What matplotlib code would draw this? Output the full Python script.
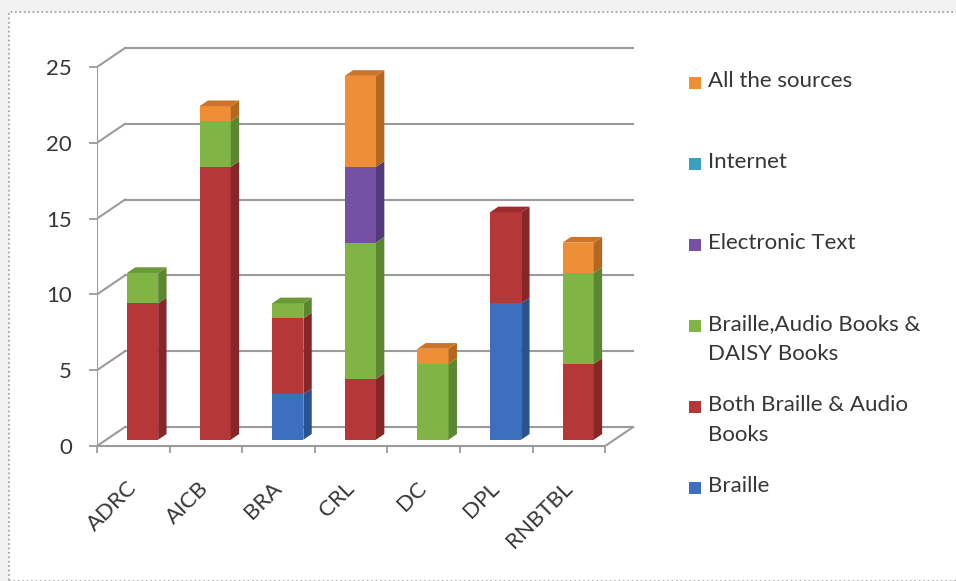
import matplotlib.pyplot as plt
from matplotlib.patches import Polygon, Rectangle

plt.rcParams['font.family'] = ['Lato', 'DejaVu Sans']

# --- datos ---
libraries = ['ADRC', 'AICB', 'BRA', 'CRL', 'DC', 'DPL', 'RNBTBL']
series_names = ['Braille', 'Both Braille & Audio\nBooks', 'Braille,Audio Books &\nDAISY Books',
                'Electronic Text', 'Internet', 'All the sources']
braille = [0, 0, 3, 0, 0, 9, 0]
both_braille_audio = [9, 18, 5, 4, 0, 6, 5]
braille_audio_daisy = [2, 3, 1, 9, 5, 0, 6]
electronic_text = [0, 0, 0, 5, 0, 0, 0]
internet = [0, 0, 0, 0, 0, 0, 0]
all_sources = [0, 1, 0, 6, 1, 0, 2]
series_values = [braille, both_braille_audio, braille_audio_daisy,
                 electronic_text, internet, all_sources]
y_ticks = [0, 5, 10, 15, 20, 25]

front_colors = ['#3c6fbd', '#b53738', '#80b546', '#7650a5', '#3aa0c0', '#ee8f38']
side_colors = ['#2b5290', '#862627', '#5c8731', '#553a7b', '#2a7a93', '#b4671f']
top_colors = ['#33609f', '#992d2e', '#6a9a38', '#64448c', '#3590ab', '#cc7428']

W, H = 956, 581
fig = plt.figure(figsize=(W / 100, H / 100), dpi=100, facecolor='#f2f2f2')
fig.patches.append(Rectangle((9 / W, 0), 1, 1 - 12 / H, transform=fig.transFigure,
                             facecolor='white', edgecolor='#9a9a9a', linestyle=':',
                             lw=1.2, zorder=-1))

# escala en pixeles
px_x, px_y = 72.6, 15.16
x_max, y_max = 7.6, 26.6
ax = fig.add_axes([97 / W, (H - 446) / H, x_max * px_x / W, y_max * px_y / H])
ax.set_xlim(0, x_max)
ax.set_ylim(0, y_max)
ax.patch.set_alpha(0)
for s in ax.spines.values():
    s.set_visible(False)

# profundidad 3D
dx, dy = 28 / px_x, 19 / px_y
n = len(libraries)
grid_c = '#9b9b9b'

# paredes y suelo
ax.plot([0, 0], [0, y_ticks[-1]], color=grid_c, lw=1.5, zorder=1)
for v in y_ticks:
    ax.plot([dx, n + dx], [v + dy, v + dy], color=grid_c, lw=1.5, zorder=1)
    ax.plot([0, dx], [v, v + dy], color=grid_c, lw=1.5, zorder=1)
ax.plot([0, n], [0, 0], color=grid_c, lw=1.5, zorder=1, clip_on=False)
ax.plot([n, n + dx], [0, dy], color=grid_c, lw=1.5, zorder=1)

# barras apiladas con caras laterales
bw = 0.43
f0 = 0.33
dd = 0.3
ox, oy = f0 * dx, f0 * dy
sx, sy = dd * dx, dd * dy
totals = [sum(col) for col in zip(*series_values)]
for i in range(n):
    bottom = 0
    x0 = i + 0.5 - bw / 2 + ox
    x1 = x0 + bw
    for k, vals in enumerate(series_values):
        v = vals[i]
        if v == 0:
            continue
        b, t = bottom + oy, bottom + v + oy
        ax.bar(x0, v, width=bw, bottom=b, align='edge', color=front_colors[k],
               linewidth=0, zorder=3)
        ax.add_patch(Polygon([(x1, b), (x1 + sx, b + sy), (x1 + sx, t + sy), (x1, t)],
                             closed=True, facecolor=side_colors[k], lw=0, zorder=3))
        if bottom + v == totals[i]:
            ax.add_patch(Polygon([(x0, t), (x0 + sx, t + sy), (x1 + sx, t + sy), (x1, t)],
                                 closed=True, facecolor=top_colors[k], lw=0, zorder=3))
        bottom += v

# ejes
text_c = '#363636'
ax.set_yticks(y_ticks)
ax.set_yticklabels([str(v) for v in y_ticks], fontsize=16, color=text_c)
ax.tick_params(axis='y', length=6, width=1.3, color=grid_c, pad=12)
ax.set_xticks([i + 0.5 for i in range(n)])
ax.set_xticklabels(libraries, rotation=45, ha='right', va='center',
                   rotation_mode='anchor', fontsize=16, color=text_c)
ax.set_xticks(range(n + 1), minor=True)
ax.tick_params(axis='x', which='major', length=0, pad=28)
ax.tick_params(axis='x', which='minor', length=5, width=1.3, color=grid_c)

# leyenda manual
for k in range(len(series_names)):
    idx = len(series_names) - 1 - k
    yc = 83 + 81 * k
    fig.patches.append(Rectangle((689 / W, (H - yc - 6) / H), 12 / W, 12 / H,
                                 transform=fig.transFigure, facecolor=front_colors[idx], lw=0))
    fig.text(708 / W, (H - yc + 12) / H, series_names[idx], fontsize=16, color=text_c,
             ha='left', va='top', linespacing=1.62)

fig.savefig('out.png', dpi=100, facecolor=fig.get_facecolor())
